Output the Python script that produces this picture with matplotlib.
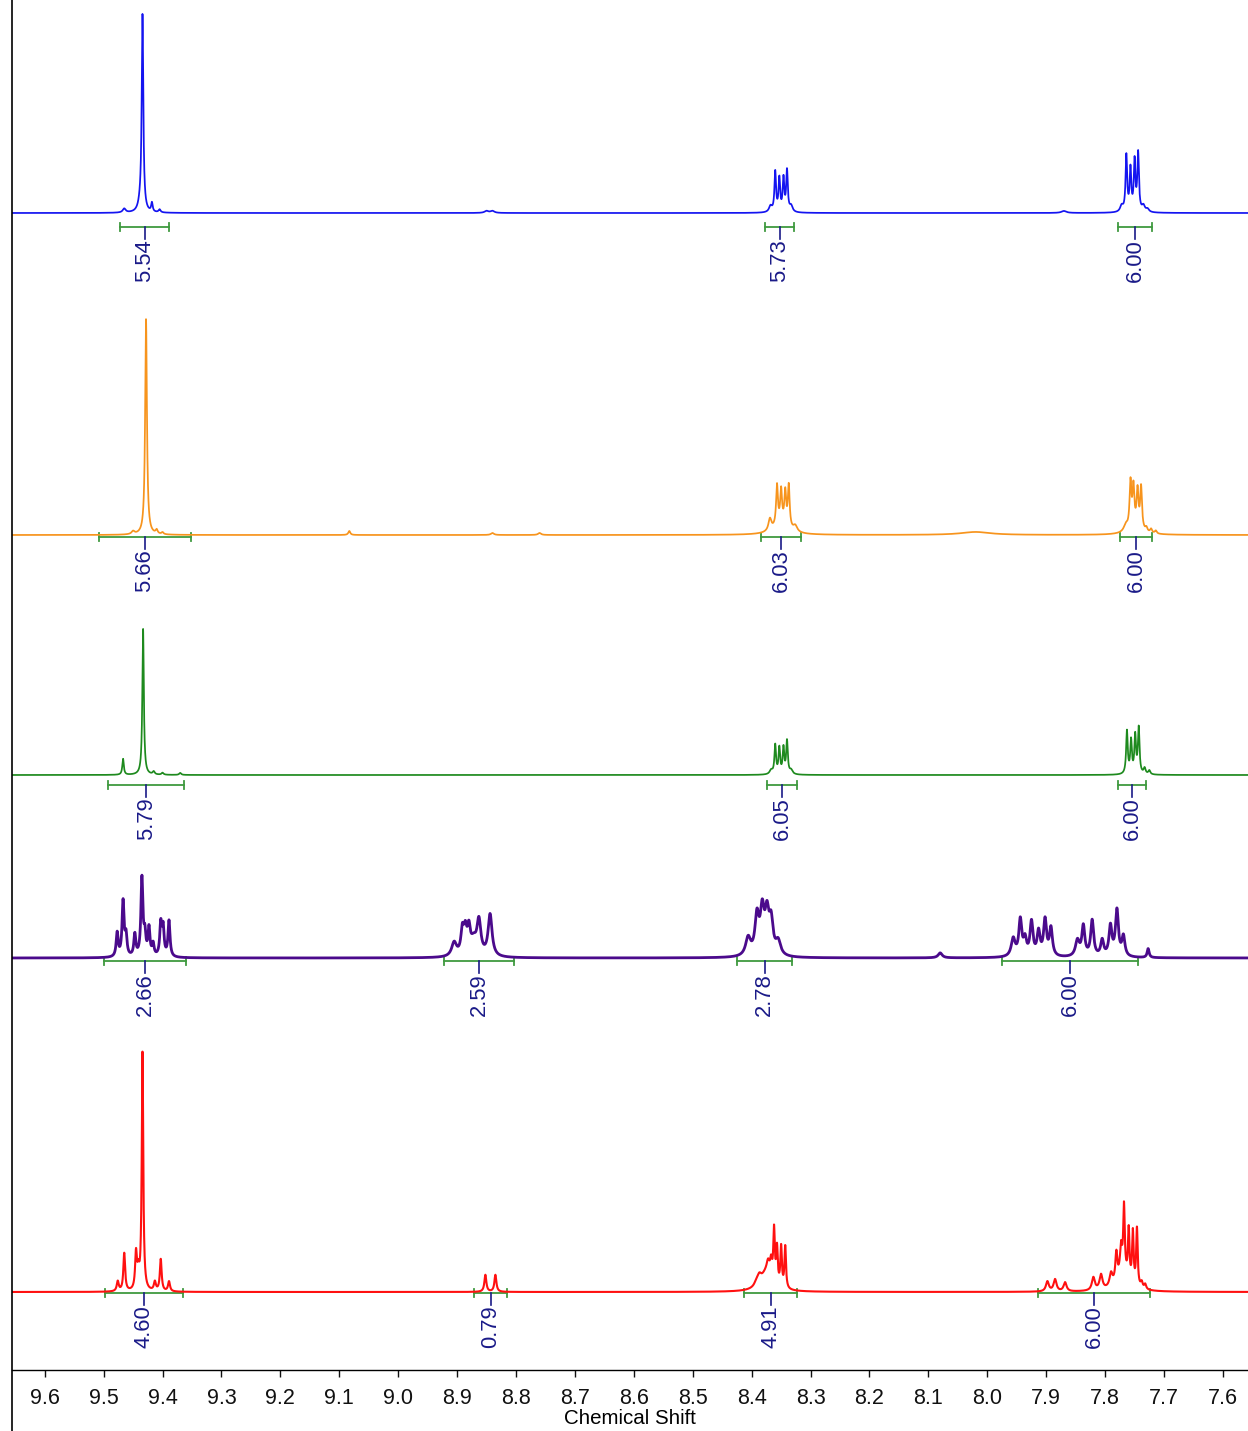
import numpy as np
import matplotlib
matplotlib.use("Agg")
import matplotlib.pyplot as plt
from matplotlib.lines import Line2D

plt.rcParams['font.family'] = ['Liberation Sans', 'DejaVu Sans']

# ---------------- spectral data (ppm, relative intensity, half-width) ----------------
blue_shift = [9.434, 9.438, 9.465, 9.418, 9.405,
              8.360, 8.353, 8.346, 8.340, 8.368, 8.333,
              7.764, 7.757, 7.750, 7.744, 7.772, 7.735, 7.728,
              8.850, 8.840, 7.870]
blue_height = [196, 6, 4, 9, 3,
               40, 33, 33, 41, 6, 6,
               56, 42, 50, 58, 6, 6, 3,
               2, 2, 2]
blue_hwhm = [0.0016, 0.004, 0.003, 0.0015, 0.002,
             0.0016, 0.0016, 0.0016, 0.0016, 0.003, 0.003,
             0.0016, 0.0016, 0.0016, 0.0016, 0.003, 0.003, 0.003,
             0.004, 0.004, 0.005]
blue_int_from = [9.472, 8.377, 7.779]
blue_int_to = [9.389, 8.328, 7.720]
blue_int_value = ["5.54", "5.73", "6.00"]

orange_shift = [9.428, 9.450, 9.410, 9.400, 9.083, 8.840, 8.760,
                8.357, 8.350, 8.343, 8.337, 8.369, 8.326, 8.350,
                7.757, 7.752, 7.745, 7.739, 7.765, 7.730, 7.722, 7.714, 7.750, 8.020]
orange_height = [216, 3, 4, 2, 4, 2, 2,
                 40, 33, 33, 42, 12, 6, 10,
                 45, 38, 36, 42, 6, 4, 4, 3, 8, 3]
orange_hwhm = [0.0018, 0.003, 0.002, 0.002, 0.002, 0.003, 0.003,
               0.0018, 0.0018, 0.0018, 0.0018, 0.003, 0.004, 0.015,
               0.0018, 0.0018, 0.0018, 0.0018, 0.004, 0.002, 0.002, 0.002, 0.012, 0.03]
orange_int_from = [9.508, 8.384, 7.774]
orange_int_to = [9.352, 8.316, 7.720]
orange_int_value = ["5.66", "6.03", "6.00"]

green_shift = [9.433, 9.467, 9.415, 9.400, 9.370,
               8.360, 8.353, 8.346, 8.340, 8.367, 8.333,
               7.763, 7.756, 7.749, 7.743, 7.733, 7.725]
green_height = [146, 16, 3, 2, 2,
                29, 26, 26, 33, 4, 4,
                43, 33, 38, 46, 6, 4]
green_hwhm = [0.0015, 0.0015, 0.002, 0.002, 0.002,
              0.0016, 0.0016, 0.0016, 0.0016, 0.003, 0.003,
              0.0016, 0.0016, 0.0016, 0.0016, 0.002, 0.002]
green_int_from = [9.492, 8.374, 7.778]
green_int_to = [9.363, 8.323, 7.730]
green_int_value = ["5.79", "6.05", "6.00"]

purple_shift = [9.477, 9.467, 9.462, 9.447, 9.435, 9.430, 9.423, 9.416, 9.403, 9.399, 9.389,
                8.905, 8.891, 8.886, 8.880, 8.863, 8.844, 8.872,
                8.406, 8.391, 8.382, 8.374, 8.367, 8.355,
                7.956, 7.944, 7.936, 7.925, 7.913, 7.902, 7.892,
                7.847, 7.837, 7.822, 7.805, 7.791, 7.780, 7.769, 7.727, 8.080]
purple_height = [24, 55, 20, 22, 78, 20, 28, 12, 32, 28, 36,
                 14, 24, 22, 24, 34, 42, 14,
                 18, 38, 42, 38, 32, 14,
                 18, 36, 16, 34, 24, 36, 28,
                 16, 30, 36, 16, 30, 46, 20, 9, 5]
purple_hwhm = [0.002, 0.002, 0.002, 0.002, 0.002, 0.002, 0.002, 0.002, 0.002, 0.002, 0.002,
               0.005, 0.003, 0.003, 0.003, 0.004, 0.004, 0.006,
               0.005, 0.004, 0.004, 0.004, 0.004, 0.005,
               0.004, 0.003, 0.003, 0.003, 0.003, 0.003, 0.003,
               0.004, 0.003, 0.003, 0.003, 0.003, 0.003, 0.003, 0.002, 0.004]
purple_int_from = [9.499, 8.922, 8.425, 7.975]
purple_int_to = [9.360, 8.803, 8.331, 7.744]
purple_int_value = ["2.66", "2.59", "2.78", "6.00"]

red_shift = [9.434, 9.476, 9.465, 9.445, 9.441, 9.413, 9.403, 9.389,
             8.852, 8.835,
             8.362, 8.357, 8.350, 8.343, 8.367, 8.372, 8.387, 8.392, 8.375,
             7.898, 7.885, 7.868, 7.820, 7.807, 7.790, 7.781, 7.773,
             7.768, 7.760, 7.753, 7.746, 7.738, 7.732, 7.770]
red_height = [238, 10, 38, 36, 16, 9, 32, 10,
              17, 17,
              52, 36, 40, 42, 16, 12, 8, 4, 18,
              10, 12, 9, 13, 15, 13, 28, 26,
              66, 50, 52, 58, 6, 5, 18]
red_hwhm = [0.0015, 0.002, 0.0018, 0.0018, 0.002, 0.002, 0.0018, 0.002,
            0.002, 0.002,
            0.0015, 0.0015, 0.0015, 0.0015, 0.002, 0.003, 0.004, 0.004, 0.012,
            0.003, 0.003, 0.003, 0.003, 0.003, 0.003, 0.002, 0.002,
            0.0015, 0.0015, 0.0015, 0.0015, 0.002, 0.002, 0.012]
red_int_from = [9.498, 8.871, 8.413, 7.914]
red_int_to = [9.365, 8.815, 8.323, 7.723]
red_int_value = ["4.60", "0.79", "4.91", "6.00"]

x_ticks = [9.6, 9.5, 9.4, 9.3, 9.2, 9.1, 9.0, 8.9, 8.8, 8.7, 8.6, 8.5,
           8.4, 8.3, 8.2, 8.1, 8.0, 7.9, 7.8, 7.7, 7.6]

# ---------------- figure layout ----------------
W, H = 1248, 1431
fig = plt.figure(figsize=(W / 100, H / 100), dpi=100)
ax_left = 12 / W
ax_bottom = (H - 1370) / H
ax = fig.add_axes([ax_left, ax_bottom, 1 - ax_left, 1 - ax_bottom])
ax.set_xlim(9.6555, 7.5575)
ax.set_ylim(0, 1370)

shift_axis = np.linspace(9.66, 7.55, 12000)


def lorentz_sum(shifts, heights, widths):
    y = np.zeros_like(shift_axis)
    for p, h, g in zip(shifts, heights, widths):
        y += h * g * g / ((shift_axis - p) ** 2 + g * g)
    return y


traces = [
    dict(s=blue_shift, h=blue_height, w=blue_hwhm, a=blue_int_from, b=blue_int_to,
         v=blue_int_value, color='#1414f0', base=1157, gap=14, lw=1.25),
    dict(s=orange_shift, h=orange_height, w=orange_hwhm, a=orange_int_from, b=orange_int_to,
         v=orange_int_value, color='#f7941d', base=835, gap=2, lw=1.25),
    dict(s=green_shift, h=green_height, w=green_hwhm, a=green_int_from, b=green_int_to,
         v=green_int_value, color='#1e8a1e', base=595, gap=10, lw=1.25),
    dict(s=purple_shift, h=purple_height, w=purple_hwhm, a=purple_int_from, b=purple_int_to,
         v=purple_int_value, color='#4b0a8c', base=412, gap=3, lw=2.0),
    dict(s=red_shift, h=red_height, w=red_hwhm, a=red_int_from, b=red_int_to,
         v=red_int_value, color='#ff1010', base=78, gap=1, lw=1.5),
]

int_color = '#3f9a3f'
label_color = '#1a1a88'

for t in traces:
    y = lorentz_sum(t['s'], t['h'], t['w'])
    ax.plot(shift_axis, t['base'] + y, color=t['color'], lw=t['lw'], zorder=3)
    by = t['base'] - t['gap']
    for a, b, val in zip(t['a'], t['b'], t['v']):
        ax.plot([a, b], [by, by], color=int_color, lw=1.3, zorder=2)
        ax.plot([a, a], [by - 4, by + 4], color=int_color, lw=1.3, zorder=2)
        ax.plot([b, b], [by - 4, by + 4], color=int_color, lw=1.3, zorder=2)
        mid = (a + b) / 2
        ax.plot([mid, mid], [by, by - 12], color=label_color, lw=1.2, zorder=2)
        ax.text(mid, by - 12, val, rotation=90, ha='center', va='top',
                fontsize=15.8, color=label_color)

for side in ('top', 'right', 'left'):
    ax.spines[side].set_visible(False)
ax.spines['bottom'].set_linewidth(1.0)
ax.set_yticks([])
ax.set_xticks(x_ticks)
ax.set_xticklabels([f"{v:.1f}" for v in x_ticks])
ax.tick_params(axis='x', direction='out', length=5, width=1, pad=8, labelsize=15.5,
               colors='#111111')
ax.set_xlabel("Chemical Shift", fontsize=14.8, labelpad=0)

# vertical frame line along the left side of the plot
fig.add_artist(Line2D([ax_left, ax_left], [0, 1], transform=fig.transFigure,
                      color='black', lw=1.2))

fig.savefig("out.png", dpi=100)
